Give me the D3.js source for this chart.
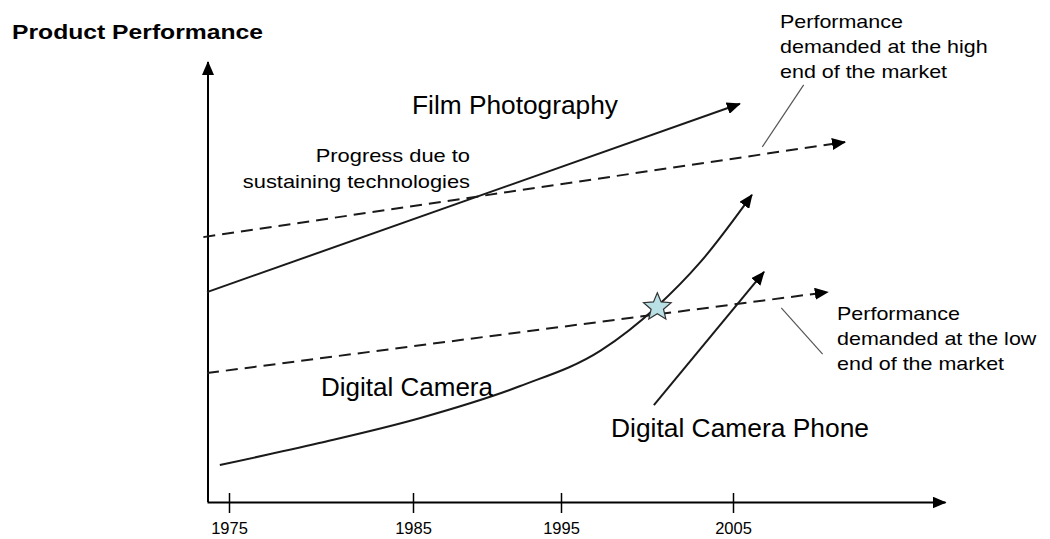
<!DOCTYPE html>
<html>
<head>
<meta charset="utf-8">
<script src="https://cdn.jsdelivr.net/npm/d3@7"></script>
<style>
  body { margin: 0; background: #fff; }
  svg { display: block; font-family: "Liberation Sans", Arial, sans-serif; }
</style>
</head>
<body>
<div id="chart"></div>
<script>
// ===== data (years / performance index 0-100) =====
const yearTicks = [1975, 1985, 1995, 2005];

const filmYears = [1973.8, 2005.4];
const filmPerf = [47.7, 90.5];

const highEndYears = [1973.6, 2011.5];
const highEndPerf = [60.2, 81.8];

const lowEndYears = [1973.8, 2010.5];
const lowEndPerf = [29.3, 47.7];

const cameraYears = [1974.5, 1979.9, 1985.5, 1992.2, 1997.3, 2000.6, 2003.1, 2006.1];
const cameraPerf = [8.4, 13.4, 19.1, 26.3, 34.4, 44.5, 54.5, 69.8];

const phoneYears = [2000.4, 2006.8];
const phonePerf = [22.0, 52.3];

const crossoverYear = [2000.6];
const crossoverPerf = [44.5];

const highLeaderYears = [2009.1, 2006.7];
const highLeaderPerf = [94.8, 80.7];
const lowLeaderYears = [2007.8, 2010.2];
const lowLeaderPerf = [44.1, 33.6];

(function() {
  const width = 1050, height = 539;

  const svg = d3.select('#chart').append('svg')
    .attr('width', width)
    .attr('height', height);

  // hand drawn axis: tick spacing is not even, so piecewise scale
  const x = d3.scaleLinear()
    .domain([1973.8, 1975, 1985, 1995, 2005, 2017.3])
    .range([207, 229, 413, 561, 733, 945]);
  const y = d3.scaleLinear().domain([0, 100]).range([502, 62]);

  const ink = '#1a1a1a';

  // arrow heads
  svg.append('defs').append('marker')
    .attr('id', 'arrow')
    .attr('viewBox', '0 0 14 12')
    .attr('refX', 13)
    .attr('refY', 6)
    .attr('markerWidth', 14)
    .attr('markerHeight', 12)
    .attr('markerUnits', 'userSpaceOnUse')
    .attr('orient', 'auto')
    .append('path')
    .attr('d', 'M0,0L14,6L0,12Z')
    .attr('fill', '#000');

  const zip = (xs, ys) => xs.map((v, i) => [v, ys[i]]);
  const line = d3.line().x(d => x(d[0])).y(d => y(d[1]));

  // x axis
  const xAxis = svg.append('g')
    .attr('transform', `translate(0,${y(0)})`)
    .call(d3.axisBottom(x).tickValues(yearTicks).tickFormat(d3.format('d')).tickSize(11).tickSizeOuter(0));
  xAxis.select('.domain')
    .attr('stroke', '#000')
    .attr('stroke-width', 2)
    .attr('marker-end', 'url(#arrow)');
  xAxis.selectAll('.tick line')
    .attr('y1', -9)
    .attr('stroke', '#000')
    .attr('stroke-width', 1.5);
  xAxis.selectAll('.tick text')
    .attr('y', 32)
    .attr('dy', null)
    .attr('fill', '#000')
    .attr('font-family', '"Liberation Sans", Arial, sans-serif')
    .attr('font-size', 16.5);

  // y axis
  svg.append('line')
    .attr('x1', x(1973.8) + 1).attr('x2', x(1973.8) + 1)
    .attr('y1', y(0)).attr('y2', y(100))
    .attr('stroke', '#000')
    .attr('stroke-width', 2)
    .attr('marker-end', 'url(#arrow)');

  // dashed "performance demanded" lines
  [zip(highEndYears, highEndPerf), zip(lowEndYears, lowEndPerf)].forEach(pts => {
    svg.append('path')
      .attr('d', line(pts))
      .attr('fill', 'none')
      .attr('stroke', ink)
      .attr('stroke-width', 2)
      .attr('stroke-dasharray', '12,7')
      .attr('marker-end', 'url(#arrow)');
  });

  // film photography
  svg.append('path')
    .attr('d', line(zip(filmYears, filmPerf)))
    .attr('fill', 'none')
    .attr('stroke', ink)
    .attr('stroke-width', 2)
    .attr('marker-end', 'url(#arrow)');

  // digital camera curve
  svg.append('path')
    .attr('d', d3.line().x(d => x(d[0])).y(d => y(d[1])).curve(d3.curveMonotoneX)(zip(cameraYears, cameraPerf)))
    .attr('fill', 'none')
    .attr('stroke', ink)
    .attr('stroke-width', 2)
    .attr('marker-end', 'url(#arrow)');

  // camera phone
  svg.append('path')
    .attr('d', line(zip(phoneYears, phonePerf)))
    .attr('fill', 'none')
    .attr('stroke', ink)
    .attr('stroke-width', 2)
    .attr('marker-end', 'url(#arrow)');

  // leader lines to the annotations
  [zip(highLeaderYears, highLeaderPerf), zip(lowLeaderYears, lowLeaderPerf)].forEach(pts => {
    svg.append('path')
      .attr('d', line(pts))
      .attr('stroke', '#555')
      .attr('stroke-width', 1.2);
  });

  // star at the crossover point
  const starPts = d3.range(10).map(i => [i * Math.PI / 5, i % 2 ? 6.5 : 14.5]);
  svg.selectAll('.star')
    .data(zip(crossoverYear, crossoverPerf))
    .join('path')
    .attr('class', 'star')
    .attr('transform', d => `translate(${x(d[0])},${y(d[1]) + 1})`)
    .attr('d', d3.lineRadial().curve(d3.curveLinearClosed)(starPts))
    .attr('fill', '#b9e0e5')
    .attr('stroke', '#333')
    .attr('stroke-width', 1.2);

  // text labels (source text is horizontally stretched)
  function label(lines, xPos, y0, size, opts = {}) {
    const lh = opts.lineHeight || size * 1.35;
    lines.forEach((t, i) => {
      const txt = svg.append('text')
        .attr('x', xPos)
        .attr('y', y0 + i * lh)
        .attr('font-size', size)
        .attr('font-weight', opts.bold ? 'bold' : 'normal')
        .attr('fill', '#000')
        .text(t);
      const natural = txt.node().getComputedTextLength();
      const w = opts.width ? opts.width : natural * (opts.stretch || 1);
      txt.attr('textLength', w).attr('lengthAdjust', 'spacingAndGlyphs');
      if (opts.alignRight) txt.attr('x', xPos - w);
    });
  }

  label(['Product Performance'], 12, 39, 19.5, { bold: true, width: 251 });
  label(['Film Photography'], 412, 114, 25, { width: 206 });
  label(['Digital Camera'], 321, 396, 26, { width: 172 });
  label(['Digital Camera Phone'], 611, 437, 26, { width: 258 });
  label(['Progress due to', 'sustaining technologies'], 470, 162, 19, { stretch: 1.15, lineHeight: 26, alignRight: true });
  label(['Performance', 'demanded at the high', 'end of the market'], 780, 28, 19, { stretch: 1.13, lineHeight: 25 });
  label(['Performance', 'demanded at the low', 'end of the market'], 837, 320, 19, { stretch: 1.13, lineHeight: 25 });
})();
</script>
</body>
</html>
